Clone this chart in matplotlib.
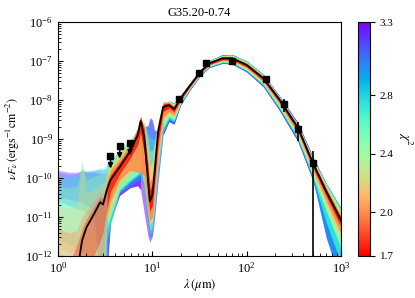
import numpy as np
import matplotlib
matplotlib.use("Agg")
from matplotlib import pyplot as plt
from matplotlib.colors import Normalize
from matplotlib.patches import FancyArrowPatch

plt.rcParams['font.family'] = 'serif'
plt.rcParams['font.serif'] = ['Liberation Serif', 'DejaVu Serif']
plt.rcParams['mathtext.fontset'] = 'stix'

# wavelength grid of the models (micron)
lam = np.array([1.0, 1.3, 1.6, 1.8, 2.0, 2.4, 2.8, 3.0, 3.3, 3.6, 4.5, 5.8, 7.0, 7.5, 8.2, 9.0,
                9.4, 10.0, 10.5, 11.5, 13, 15, 17, 20, 25, 32, 40, 55, 70, 100, 150, 220,
                350, 500, 700, 1000])

# best fit model, log10(nuFnu)
log_best = [-13.5, -12.8, -12.4, -11.6, -11.27, -10.93, -10.62, -10.68, -10.3, -10.05, -9.72,
            -9.32, -8.9, -8.54, -8.95, -10.05, -10.6, -10.44, -9.92, -8.82, -8.18, -8.13, -8.23,
            -7.95, -7.63, -7.29, -7.06, -6.93, -6.93, -7.10, -7.44, -7.97, -8.71, -9.60, -10.35,
            -11.08]

# envelopes of the model groups (upper / lower, log10)
chi_groups = [3.25, 3.0, 2.75, 2.45, 2.2, 2.0, 1.75]
upper_purple = [-9.8, -9.85, -9.85, -9.82, -9.85, -9.85, -9.88, -9.9, -9.85, -9.7, -9.45, -9.2,
                -8.9, -8.75, -8.7, -8.65, -8.45, -8.5, -8.75, -8.85, -8.2, -8.05, -8.07, -7.87,
                -7.57, -7.23, -6.99, -6.84, -6.83, -7.00, -7.34, -7.87, -8.58, -9.44, -10.15, -10.8]
lower_purple = [-10.5, -10.55, -10.6, -10.6, -10.7, -10.8, -12.5, -13.5, -12.5, -11.1, -10.45,
                -10.25, -10.2, -10.3, -10.9, -11.5, -11.65, -11.5, -11.1, -10.1, -8.9, -8.55,
                -8.62, -8.12, -7.75, -7.39, -7.17, -7.06, -7.08, -7.28, -7.66, -8.25, -9.07,
                -10.05, -11.25, -12.08]
upper_blue = [-9.85, -9.9, -9.88, -9.8, -9.82, -9.8, -9.78, -9.8, -9.75, -9.6, -9.35, -9.1, -8.8,
              -8.68, -8.65, -8.7, -8.5, -8.55, -8.8, -8.75, -8.15, -8.03, -8.07, -7.87, -7.57,
              -7.23, -6.99, -6.84, -6.83, -7.00, -7.34, -7.88, -8.61, -9.47, -10.15, -10.78]
lower_blue = [-10.6, -10.7, -10.8, -10.8, -10.9, -11.2, -12.5, -13.5, -12.3, -11.1, -10.4, -10.2,
              -10.05, -10.0, -10.3, -11.2, -11.55, -11.45, -11.0, -10.0, -8.85, -8.52, -8.6,
              -8.11, -7.74, -7.38, -7.16, -7.05, -7.07, -7.27, -7.64, -8.23, -9.04, -10.02,
              -11.55, -12.68]
upper_cyan = [-9.95, -10.0, -9.95, -9.75, -9.85, -9.8, -9.75, -9.75, -9.65, -9.55, -9.3, -9.05,
              -8.75, -8.62, -8.6, -8.85, -8.95, -9.0, -9.0, -8.65, -8.1, -8.02, -8.08, -7.88,
              -7.57, -7.23, -6.99, -6.85, -6.83, -7.00, -7.35, -7.89, -8.62, -9.48, -10.15, -10.75]
lower_cyan = [-11.6, -11.7, -11.8, -11.9, -12.0, -12.2, -12.6, -13.0, -11.6, -11.2, -10.35, -10.1,
              -9.95, -9.9, -10.3, -11.1, -11.45, -11.35, -10.9, -9.9, -8.8, -8.48, -8.55, -8.09,
              -7.73, -7.37, -7.15, -7.04, -7.05, -7.25, -7.62, -8.20, -9.01, -9.97, -11.15, -12.18]
upper_green = [-10.2, -10.25, -10.2, -9.6, -10.05, -9.95, -9.9, -9.9, -9.75, -9.6, -9.3, -9.05,
               -8.75, -8.6, -8.55, -9.0, -9.3, -9.3, -9.1, -8.6, -8.08, -8.02, -8.10, -7.89,
               -7.58, -7.24, -7.00, -6.86, -6.85, -7.02, -7.36, -7.90, -8.63, -9.49, -10.18, -10.83]
lower_green = [-12.6, -12.7, -12.8, -13.0, -13.2, -13.3, -13.5, -13.5, -11.3, -11.0, -10.3, -10.05,
               -9.9, -9.8, -10.2, -11.0, -11.35, -11.25, -10.8, -9.8, -8.7, -8.42, -8.5, -8.07,
               -7.71, -7.36, -7.14, -7.02, -7.04, -7.23, -7.59, -8.17, -8.96, -9.92, -10.85, -11.78]
upper_yellow = [-10.7, -10.8, -10.7, -9.55, -10.4, -10.3, -10.15, -10.15, -9.9, -9.7, -9.4, -9.1,
                -8.75, -8.55, -8.6, -9.3, -9.7, -9.6, -9.2, -8.55, -8.05, -8.03, -8.12, -7.90,
                -7.58, -7.24, -7.01, -6.87, -6.86, -7.03, -7.37, -7.91, -8.65, -9.51, -10.22, -10.90]
lower_yellow = [-11.8, -11.9, -11.9, -11.8, -11.9, -12.2, -12.8, -12.8, -11.1, -10.9, -10.2, -9.9,
                -9.7, -9.6, -10.0, -10.9, -11.2, -11.1, -10.6, -9.6, -8.55, -8.36, -8.45, -8.04,
                -7.70, -7.35, -7.12, -7.0, -7.01, -7.2, -7.56, -8.12, -8.91, -9.85, -10.7, -11.58]
upper_orange = [-11.3, -11.4, -11.35, -11.0, -10.85, -10.6, -10.35, -10.4, -10.05, -9.8, -9.5,
                -9.15, -8.7, -8.43, -8.7, -9.55, -10.1, -9.95, -9.45, -8.6, -8.06, -8.05, -8.15,
                -7.91, -7.59, -7.25, -7.02, -6.88, -6.88, -7.05, -7.39, -7.92, -8.66, -9.53,
                -10.26, -10.96]
lower_orange = [-13.5, -13.5, -13.5, -13.5, -13.5, -13.2, -12.6, -12.2, -11.0, -10.6, -10.05, -9.8,
                -9.85, -9.85, -9.95, -10.8, -11.1, -11.0, -10.5, -9.4, -8.45, -8.3, -8.38, -8.02,
                -7.68, -7.33, -7.1, -6.98, -6.99, -7.17, -7.53, -8.08, -8.85, -9.78, -10.6, -11.43]
upper_red = [-12.6, -12.2, -11.7, -11.3, -11.05, -10.75, -10.48, -10.52, -10.15, -9.92, -9.6,
             -9.22, -8.75, -8.42, -8.75, -9.7, -10.3, -10.15, -9.65, -8.68, -8.1, -8.08, -8.18,
             -7.92, -7.60, -7.26, -7.03, -6.90, -6.90, -7.07, -7.41, -7.94, -8.68, -9.56, -10.30,
             -11.02]
lower_red = [-13.5, -13.5, -13.2, -12.8, -12.5, -12.0, -11.6, -11.4, -10.8, -10.35, -9.9, -9.5,
             -9.15, -8.85, -9.35, -10.4, -10.85, -10.7, -10.2, -9.1, -8.3, -8.2, -8.3, -7.99,
             -7.66, -7.32, -7.09, -6.97, -6.97, -7.15, -7.5, -8.04, -8.8, -9.71, -10.47, -11.25]

# observed fluxes
lam_det = [19.2, 31.4, 37.1, 70, 160, 250, 350, 500]
flux_det = [1.05e-8, 5.0e-8, 8.7e-8, 1.02e-7, 3.45e-8, 7.8e-9, 1.8e-9, 2.4e-10]
err_lo = [0, 0, 0, 0, 0, 3.0e-9, 0.9e-9, 2.39e-10]
err_hi = [0, 0, 0, 0, 0, 3.0e-9, 0.9e-9, 2.5e-10]
# upper limits
lam_ul = [3.6, 4.5, 5.8]
flux_ul = [3.7e-10, 6.7e-10, 8.1e-10]

x_ticks = [1, 10, 100, 1000]
y_ticks = [1e-12, 1e-11, 1e-10, 1e-9, 1e-8, 1e-7, 1e-6]
chi_ticks = [1.7, 2.0, 2.4, 2.8, 3.3]

envelopes = [(upper_purple, lower_purple), (upper_blue, lower_blue), (upper_cyan, lower_cyan),
             (upper_green, lower_green), (upper_yellow, lower_yellow),
             (upper_orange, lower_orange), (upper_red, lower_red)]

fig = plt.figure(figsize=(4.15, 2.98), dpi=100)
ax = fig.add_axes([0.1398, 0.141, 0.6819, 0.785])
cax = fig.add_axes([0.8627, 0.141, 0.0289, 0.785])

cmap = plt.get_cmap('rainbow_r')
norm = Normalize(vmin=1.7, vmax=3.3)

# the model curves are sparse in the near-IR and around the silicate feature
nir = lam <= 3.3
mir = (lam >= 3.3) & (lam <= 7.5)
sil = (lam >= 7.5) & (lam <= 13)
far = lam >= 13
for chi, (up, lo) in zip(chi_groups, envelopes):
    c = cmap(norm(chi))
    up = 10 ** np.array(up)
    lo = 10 ** np.array(lo)
    a_sil = 0.55 if chi > 2.3 else 1.0
    ax.fill_between(lam, lo, up, where=nir, color=c, alpha=0.35, lw=0)
    ax.fill_between(lam, lo, up, where=mir, color=c, alpha=0.85, lw=0)
    ax.fill_between(lam, lo, up, where=sil, color=c, alpha=a_sil, lw=0)
    ax.fill_between(lam, lo, up, where=far, color=c, lw=0)

ax.plot(lam, 10 ** np.array(log_best), color='k', lw=1.3)

ax.errorbar(lam_det, flux_det, yerr=[err_lo, err_hi], fmt='s', color='k', ms=5,
            elinewidth=1.2, capsize=0)
ax.plot(lam_ul, flux_ul, 's', color='k', ms=5)
# upper limit arrows
for x, f in zip(lam_ul, flux_ul):
    ax.add_patch(FancyArrowPatch((x, f), (x, f / 2.5), arrowstyle='-|>', color='k',
                                 lw=1.2, mutation_scale=7))

ax.set_xscale('log')
ax.set_yscale('log')
ax.set_xticks(x_ticks)
ax.set_yticks(y_ticks)
ax.set_xlim(1, 1000)
ax.set_ylim(1e-12, 1e-6)
ax.tick_params(which='both', direction='in', labelsize=9)
ax.set_title('G35.20-0.74', fontsize=9, pad=4)
ax.set_xlabel(r'$\lambda\,(\mu\mathrm{m})$', fontsize=9, labelpad=1)
ax.set_ylabel(r'$\nu F_\nu\,(\mathrm{erg s^{-1}cm^{-2}})$', fontsize=8.5, labelpad=2)

sm = plt.cm.ScalarMappable(cmap=cmap, norm=norm)
cb = fig.colorbar(sm, cax=cax, ticks=chi_ticks)
cb.ax.set_yticklabels(['%.1f' % t for t in chi_ticks])
cb.ax.tick_params(labelsize=8)
cb.outline.set_linewidth(0.8)
cb.set_label(r'$\chi^2$', rotation=270, fontsize=9, labelpad=15)

fig.savefig('out.png', dpi=100)
